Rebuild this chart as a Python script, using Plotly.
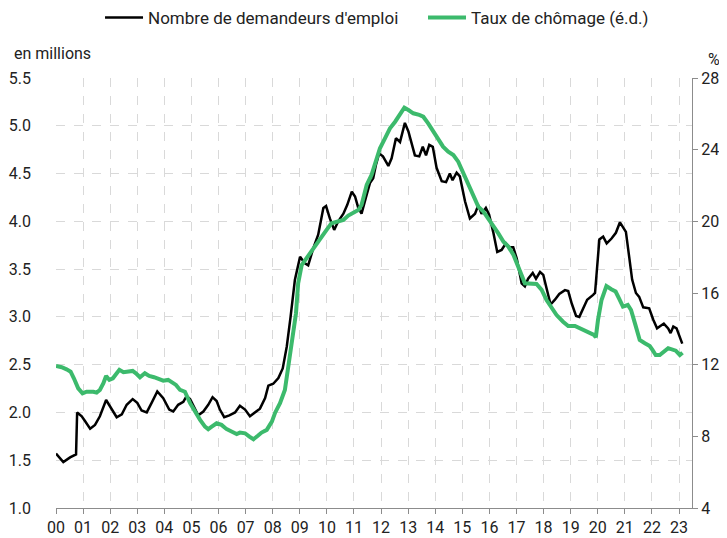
import plotly.graph_objects as go

# Nombre de demandeurs d'emploi (millions) - decimal years
dem_x = [2000.00, 2000.27, 2000.52, 2000.68, 2000.74, 2000.78, 2000.95, 2001.07, 2001.26, 2001.44,
         2001.62, 2001.85, 2001.99, 2002.24, 2002.43, 2002.61, 2002.83, 2003.00, 2003.16, 2003.35,
         2003.53, 2003.74, 2003.96, 2004.18, 2004.33, 2004.51, 2004.70, 2004.82, 2004.95, 2005.07,
         2005.25, 2005.44, 2005.62, 2005.78, 2005.93, 2006.05, 2006.21, 2006.40, 2006.61, 2006.79,
         2006.98, 2007.16, 2007.35, 2007.53, 2007.72, 2007.84, 2008.02, 2008.21, 2008.37, 2008.52,
         2008.66, 2008.82, 2009.01, 2009.19, 2009.31, 2009.50, 2009.68, 2009.87, 2009.97, 2010.11,
         2010.27, 2010.42, 2010.61, 2010.75, 2010.92, 2011.04, 2011.16, 2011.28, 2011.47, 2011.59,
         2011.71, 2011.81, 2011.93, 2012.07, 2012.27, 2012.39, 2012.55, 2012.70, 2012.88, 2013.01,
         2013.25, 2013.41, 2013.54, 2013.66, 2013.78, 2013.91, 2014.05, 2014.24, 2014.40, 2014.54,
         2014.64, 2014.79, 2014.91, 2015.10, 2015.28, 2015.47, 2015.59, 2015.71, 2015.87, 2015.99,
         2016.14, 2016.29, 2016.45, 2016.61, 2016.73, 2016.88, 2017.01, 2017.19, 2017.31, 2017.43,
         2017.60, 2017.72, 2017.87, 2017.99, 2018.11, 2018.26, 2018.42, 2018.58, 2018.79, 2018.91,
         2019.04, 2019.20, 2019.32, 2019.47, 2019.61, 2019.83, 2019.90, 2019.98, 2020.06, 2020.20,
         2020.33, 2020.51, 2020.67, 2020.82, 2021.04, 2021.16, 2021.27, 2021.41, 2021.53, 2021.68,
         2021.90, 2022.05, 2022.19, 2022.44, 2022.60, 2022.69, 2022.79, 2022.91, 2023.03, 2023.12]
dem_y = [1.57, 1.48, 1.53, 1.55, 1.56, 2.00, 1.96, 1.91, 1.83, 1.87,
         1.96, 2.13, 2.06, 1.95, 1.98, 2.08, 2.14, 2.10, 2.02, 2.00,
         2.10, 2.22, 2.15, 2.03, 2.01, 2.08, 2.11, 2.17, 2.14, 2.07,
         1.97, 2.01, 2.08, 2.16, 2.12, 2.03, 1.95, 1.97, 2.00, 2.07,
         2.03, 1.96, 2.00, 2.04, 2.15, 2.28, 2.30, 2.36, 2.46, 2.69,
         3.00, 3.39, 3.63, 3.56, 3.54, 3.72, 3.86, 4.14, 4.16, 4.03,
         3.91, 4.00, 4.08, 4.17, 4.31, 4.26, 4.14, 4.08, 4.28, 4.40,
         4.45, 4.59, 4.71, 4.68, 4.58, 4.66, 4.87, 4.83, 5.03, 4.94,
         4.69, 4.68, 4.78, 4.69, 4.80, 4.78, 4.56, 4.42, 4.41, 4.50,
         4.43, 4.51, 4.47, 4.21, 4.03, 4.08, 4.17, 4.08, 4.14, 4.07,
         3.89, 3.68, 3.70, 3.77, 3.73, 3.73, 3.61, 3.35, 3.32, 3.40,
         3.46, 3.40, 3.47, 3.44, 3.30, 3.13, 3.18, 3.24, 3.28, 3.27,
         3.14, 3.01, 3.00, 3.09, 3.18, 3.23, 3.25, 3.53, 3.81, 3.84,
         3.77, 3.82, 3.88, 3.99, 3.89, 3.63, 3.39, 3.25, 3.21, 3.10,
         3.09, 2.97, 2.88, 2.93, 2.88, 2.83, 2.90, 2.88, 2.78, 2.72]

# Taux de chômage (%), échelle de droite
tx_x = [2000.00, 2000.21, 2000.39, 2000.54, 2000.66, 2000.82, 2000.98, 2001.13, 2001.38, 2001.50,
        2001.62, 2001.75, 2001.85, 2001.97, 2002.10, 2002.22, 2002.34, 2002.49, 2002.83, 2002.95,
        2003.10, 2003.28, 2003.44, 2003.62, 2003.77, 2003.96, 2004.14, 2004.43, 2004.58, 2004.76,
        2004.95, 2005.13, 2005.32, 2005.50, 2005.62, 2005.75, 2005.93, 2006.11, 2006.30, 2006.48,
        2006.67, 2006.79, 2006.98, 2007.14, 2007.29, 2007.44, 2007.59, 2007.78, 2007.97, 2008.09,
        2008.27, 2008.45, 2008.57, 2008.70, 2008.86, 2008.86, 2008.94, 2009.07, 2009.50, 2009.74,
        2009.99, 2010.17, 2010.61, 2010.79, 2010.98, 2011.16, 2011.28, 2011.47, 2011.65, 2011.84,
        2011.96, 2012.15, 2012.33, 2012.52, 2012.70, 2012.86, 2013.01, 2013.19, 2013.41, 2013.56,
        2013.74, 2013.93, 2014.11, 2014.29, 2014.48, 2014.67, 2014.85, 2015.04, 2015.22, 2015.41,
        2015.59, 2015.78, 2015.96, 2016.15, 2016.33, 2016.52, 2016.70, 2016.89, 2017.07, 2017.23,
        2017.31, 2017.74, 2017.93, 2018.11, 2018.29, 2018.48, 2018.72, 2018.91, 2019.16, 2019.47,
        2019.65, 2019.83, 2019.86, 2019.93, 2020.01, 2020.14, 2020.32, 2020.50, 2020.66, 2020.78,
        2020.93, 2021.11, 2021.23, 2021.39, 2021.55, 2021.74, 2021.92, 2022.02, 2022.14, 2022.29,
        2022.44, 2022.60, 2022.88, 2023.03, 2023.13]
tx_y = [11.93, 11.86, 11.74, 11.61, 11.24, 10.68, 10.40, 10.49, 10.49, 10.44,
        10.59, 10.96, 11.37, 11.15, 11.24, 11.52, 11.71, 11.58, 11.65, 11.52,
        11.30, 11.52, 11.37, 11.30, 11.19, 11.11, 11.15, 10.87, 10.59, 10.49,
        9.85, 9.38, 8.92, 8.54, 8.40, 8.54, 8.73, 8.64, 8.40, 8.27,
        8.13, 8.21, 8.17, 7.98, 7.84, 8.02, 8.21, 8.36, 8.82, 9.32,
        9.85, 10.59, 11.71, 13.20, 14.87, 14.87, 16.54, 17.56, 18.50, 19.05,
        19.52, 19.89, 20.08, 20.32, 20.45, 20.63, 20.91, 22.03, 22.59, 23.52,
        24.08, 24.64, 25.19, 25.56, 26.03, 26.34, 26.21, 26.03, 25.94, 25.84,
        25.47, 25.00, 24.54, 24.17, 23.89, 23.70, 23.33, 22.68, 22.03, 21.38,
        20.82, 20.54, 20.17, 19.70, 19.33, 18.86, 18.59, 18.12, 17.38, 16.73,
        16.54, 16.50, 16.17, 15.61, 15.15, 14.77, 14.40, 14.16, 14.16, 13.94,
        13.79, 13.66, 13.66, 13.53, 14.50, 15.61, 16.39, 16.21, 16.08, 15.71,
        15.24, 15.33, 15.05, 14.22, 13.38, 13.20, 13.04, 12.82, 12.54, 12.54,
        12.73, 12.92, 12.78, 12.54, 12.67]

year_ticks = list(range(2000, 2024))
year_labels = [f"{y % 100:02d}" for y in year_ticks]
left_ticks = [1.0, 1.5, 2.0, 2.5, 3.0, 3.5, 4.0, 4.5, 5.0, 5.5]
right_ticks = [4, 8, 12, 16, 20, 24, 28]

FONT = "Roboto"
TXT = "#222222"
GRID = "#d9d9d9"
AXIS = "#8c8c8c"
GREEN = "#3cba6c"

# the page places the figure 8px from the window's top-left corner
W, H = 719, 530

fig = go.Figure()
fig.add_trace(go.Scatter(x=dem_x, y=dem_y, mode="lines", name="Nombre de demandeurs d'emploi",
                         line=dict(color="#000000", width=2.5), yaxis="y", legend="legend"))
fig.add_trace(go.Scatter(x=tx_x, y=tx_y, mode="lines", name="Taux de chômage (é.d.)",
                         line=dict(color=GREEN, width=4), yaxis="y2", legend="legend2"))

leg_common = dict(orientation="h", xref="container", yref="container", xanchor="left",
                  y=0.981, yanchor="middle", font=dict(size=17, color=TXT), itemwidth=38,
                  bgcolor="rgba(0,0,0,0)")

fig.update_layout(
    width=W, height=H,
    margin=dict(l=48, r=35, t=70, b=30, autoexpand=False),
    paper_bgcolor="white", plot_bgcolor="white",
    font=dict(family=FONT, size=16, color=TXT),
    showlegend=True,
    legend=dict(x=0.128, **leg_common),
    legend2=dict(x=0.5772, **leg_common),
    xaxis=dict(range=[2000, 2023.48], tickvals=year_ticks, ticktext=year_labels,
               showgrid=True, gridcolor=GRID, griddash="dash", gridwidth=1,
               showline=True, linecolor=AXIS, linewidth=1,
               ticks="outside", ticklen=5, tickcolor=AXIS, automargin=False,
               zeroline=False, tickfont=dict(size=16, color=TXT)),
    yaxis=dict(range=[1.0, 5.5], tickvals=left_ticks, tickformat=".1f",
               showgrid=True, gridcolor=GRID, griddash="dash", gridwidth=1,
               showline=False, zeroline=False, ticks="", automargin=False,
               ticklabelstandoff=24, tickfont=dict(size=16, color=TXT)),
    yaxis2=dict(range=[4, 28], tickvals=right_ticks, overlaying="y", side="right",
                showgrid=False, zeroline=False, showline=True, linecolor=AXIS, linewidth=1,
                ticks="outside", ticklen=5, tickcolor=AXIS, automargin=False,
                tickfont=dict(size=16, color=TXT)),
    annotations=[
        dict(text="en millions", xref="paper", yref="paper", x=-0.069, y=1.058,
             xanchor="left", yanchor="middle", showarrow=False, font=dict(size=16, color=TXT)),
        dict(text="%", xref="paper", yref="paper", x=1.0346, y=1.042,
             xanchor="center", yanchor="middle", showarrow=False, font=dict(size=16, color=TXT)),
    ],
)

fig.write_html("out.html")
